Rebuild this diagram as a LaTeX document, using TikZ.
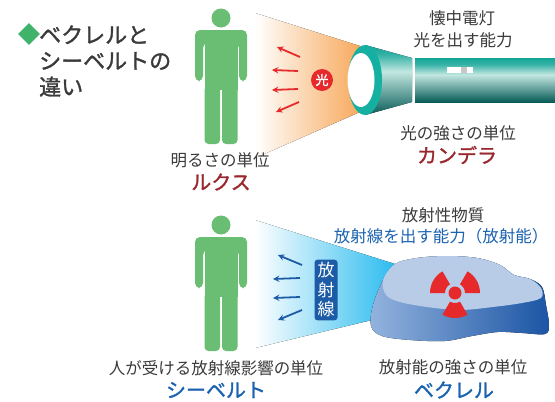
\documentclass[tikz,border=0pt]{standalone}
\usepackage{fontspec}
\newfontfamily\jp{Noto Sans CJK JP}
\newfontfamily\jpheavy[FakeBold=1.4]{Noto Sans CJK JP}
\usetikzlibrary{shapes.geometric}

\definecolor{mangreen}{HTML}{69BE73}
\definecolor{titlegreen}{HTML}{3FB36A}
\definecolor{textgray}{HTML}{3A3A3A}
\definecolor{unitred}{HTML}{98282E}
\definecolor{unitblue}{HTML}{1B63B1}
\definecolor{lightorange}{HTML}{F7A95C}
\definecolor{raycyan}{HTML}{2BBCEF}
\definecolor{rayred}{HTML}{E62A2B}
\definecolor{rayblue}{HTML}{1C5CA6}
\definecolor{rimteal}{HTML}{14B0A2}
\definecolor{tubedark}{HTML}{075C57}
\definecolor{tubelight}{HTML}{C3E7E1}
\definecolor{tubemid}{HTML}{35B2A6}
\definecolor{tubetop}{HTML}{12A496}
\definecolor{rockfront}{HTML}{93B3DE}
\definecolor{rockdeep}{HTML}{1B55A4}
\definecolor{rocktop}{HTML}{B8CBE7}

\pgfdeclareverticalshading{tube}{100bp}{color(0bp)=(tubedark); color(25bp)=(tubedark);
  color(56bp)=(tubelight); color(68bp)=(tubemid); color(75bp)=(tubetop); color(100bp)=(tubetop)}

\tikzset{
  pics/person/.style={code={
    \fill[mangreen] (0,-12) circle[radius=9.5];
    \fill[mangreen,rounded corners=5] (-26,51) -- (-26,0) -- (26,0) -- (26,51) -- (18,51)
      -- (18,13) -- (-18,13) -- (-18,51) -- cycle;
    \fill[mangreen] (-16.5,8) rectangle (16.5,60);
    \fill[mangreen,rounded corners=4] (-16.5,56) -- (-16.5,114) -- (-1,114) -- (-1,56) -- cycle;
    \fill[mangreen,rounded corners=4] (16.5,56) -- (16.5,114) -- (1,114) -- (1,56) -- cycle;
  }},
  ray/.style={-stealth,line width=1.8pt},
  label/.style={text=textgray,inner sep=0,font=\jp\fontsize{16.5}{18}\selectfont},
  unit/.style={inner sep=0,font=\jpheavy\fontsize{20}{22}\selectfont}
}

\begin{document}
\begin{tikzpicture}[x=1pt,y=-1pt]
  \useasboundingbox (0,0) rectangle (555,402);

  % title
  \node[diamond,fill=titlegreen,minimum size=22,inner sep=0] (mark) at (29,34) {};
  \node[anchor=west,align=left,inner sep=0,text=textgray,
        font=\jpheavy\fontsize{22}{26}\selectfont] (title) at (39,61)
        {ベクレルと\\シーベルトの\\違い};

  % flashlight and light
  \fill[left color=white,right color=lightorange] (255,13) -- (360,46) -- (360,112) -- (255,158) -- cycle;
  \fill[shading=tube] (365,45) -- (412,58) -- (412,102) -- (365,115) -- cycle;
  \fill[rimteal] (365,80) ellipse[x radius=17,y radius=35];
  \fill[white] (361,80) ellipse[x radius=13.5,y radius=27];
  \fill[shading=tube] (415,58) rectangle (555,102);
  \fill[white] (447,67) rectangle (473,73);
  \fill[black!22] (461,67) rectangle (467,73);

  \draw[ray,rayred] (300,57) -- (277,47);
  \draw[ray,rayred] (298,71) -- (272,70);
  \draw[ray,rayred] (298,89) -- (272,90);
  \draw[ray,rayred] (299,102) -- (276,112);
  \node[circle,fill=rayred,text=white,minimum size=22,inner sep=0,
        font=\jpheavy\fontsize{13}{14}\selectfont] (light) at (322,80) {光};

  \pic at (221,30) {person};

  \node[label] (lux) at (220,160) {明るさの単位};
  \node[unit,text=unitred] (luxunit) at (221,182) {ルクス};
  \node[label] (torch) at (462,18) {懐中電灯};
  \node[label] (torchpow) at (463,40) {光を出す能力};
  \node[label] (cd) at (458,133) {光の強さの単位};
  \node[unit,text=unitred] (cdunit) at (457,155) {カンデラ};

  % radioactive source and radiation
  \fill[left color=white,right color=raycyan] (255,220) -- (395,264) -- (372,320) -- (255,348) -- cycle;
  \fill[left color=rockfront,right color=rockdeep] plot[smooth cycle,tension=0.55] coordinates
    {(383,280) (395,264) (417,258) (447,256) (477,258) (500,265) (514,275) (530,279) (542,287)
     (546,305) (549,325) (545,334) (522,333) (498,332) (472,336) (445,341) (410,340) (382,336)
     (371,326) (373,305)};
  \fill[rocktop] plot[smooth cycle,tension=0.55] coordinates
    {(383,280) (395,264) (417,258) (447,256) (477,258) (500,265) (514,275) (530,279) (541,288)
     (541,298) (522,303) (493,307) (460,310) (427,307) (400,302) (386,295)};
  \begin{scope}[shift={(455,293)}]
    \foreach \a in {90,210,330}
      \fill[rayred] (\a-30:10) arc[start angle=\a-30,end angle=\a+30,radius=10]
        -- (\a+30:25) arc[start angle=\a+30,end angle=\a-30,radius=25] -- cycle;
    \fill[rayred] (0,0) circle[radius=6.5];
  \end{scope}

  \draw[ray,rayblue] (302,265) -- (278,255);
  \draw[ray,rayblue] (300,278) -- (273,279);
  \draw[ray,rayblue] (300,297) -- (273,298);
  \draw[ray,rayblue] (302,310) -- (278,320);
  \node[fill=rayblue,text=white,rounded corners=3,align=center,inner sep=3,
        font=\jp\fontsize{17}{19.5}\selectfont] (rays) at (326,290) {放\\射\\線};

  \pic at (221,237) {person};

  \node[label] (sv) at (216,368) {人が受ける放射線影響の単位};
  \node[unit,text=unitblue] (svunit) at (216,390) {シーベルト};
  \node[label] (src) at (443,215) {放射性物質};
  \node[label,text=unitblue] (srcpow) at (441,236) {放射線を出す能力（放射能）};
  \node[label] (bq) at (453,367) {放射能の強さの単位};
  \node[unit,text=unitblue] (bqunit) at (454,390) {ベクレル};
\end{tikzpicture}
\end{document}
